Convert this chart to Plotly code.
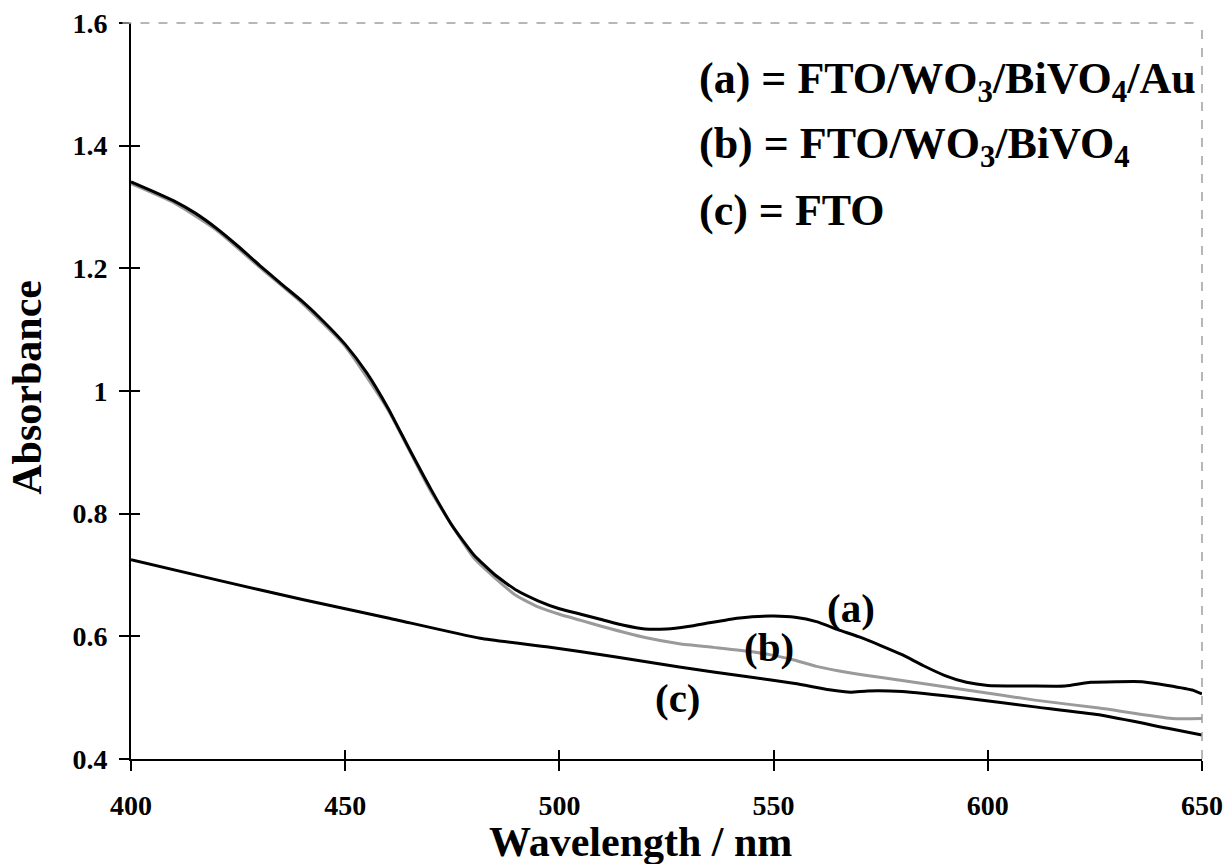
import plotly.graph_objects as go

# Wavelength (nm) / absorbance
wl_a = [400, 405, 410, 415, 420, 425, 430, 435, 440, 445, 450, 455, 460, 465, 470, 475, 480, 485, 490,
        495, 500, 505, 510, 515, 520, 525, 530, 535, 540, 545, 550, 555, 560, 565, 570, 575, 580, 585,
        590, 595, 600, 610, 618, 624, 630, 636, 642, 648, 650]
abs_a = [1.341, 1.326, 1.310, 1.290, 1.265, 1.236, 1.205, 1.175, 1.146, 1.113, 1.076, 1.030, 0.972, 0.905,
         0.840, 0.780, 0.733, 0.700, 0.675, 0.658, 0.645, 0.636, 0.627, 0.618, 0.612, 0.612, 0.616, 0.622,
         0.628, 0.632, 0.633, 0.631, 0.624, 0.611, 0.599, 0.585, 0.570, 0.552, 0.536, 0.525, 0.520, 0.519,
         0.519, 0.525, 0.526, 0.526, 0.520, 0.512, 0.506]

wl_b = [400, 410, 420, 430, 440, 450, 460, 470, 480, 485, 490, 495, 500, 505, 510, 520, 528, 536, 545,
        550, 555, 560, 565, 571, 580, 595, 611, 626, 643, 650]
abs_b = [1.338, 1.307, 1.262, 1.202, 1.143, 1.073, 0.969, 0.836, 0.728, 0.695, 0.666, 0.648, 0.636, 0.626,
         0.616, 0.598, 0.588, 0.582, 0.575, 0.569, 0.561, 0.551, 0.544, 0.537, 0.528, 0.5125, 0.496, 0.483,
         0.466, 0.466]

wl_c = [400, 420, 440, 460, 481.5, 497, 512.5, 528, 544, 555, 563, 568, 572, 580, 595, 611, 626, 642, 650]
abs_c = [0.725, 0.692, 0.660, 0.630, 0.597, 0.583, 0.567, 0.550, 0.534, 0.523, 0.513, 0.509, 0.511, 0.510,
         0.499, 0.485, 0.472, 0.450, 0.439]

x_ticks = [400, 450, 500, 550, 600, 650]
y_ticks = [0.4, 0.6, 0.8, 1.0, 1.2, 1.4, 1.6]
y_tick_labels = ["0.4", "0.6", "0.8", "1", "1.2", "1.4", "1.6"]

legend_lines = ["(a) = FTO/WO<sub>3</sub>/BiVO<sub>4</sub>/Au",
                "(b) = FTO/WO<sub>3</sub>/BiVO<sub>4</sub>",
                "(c) = FTO"]
curve_labels = ["(a)", "(b)", "(c)"]
curve_label_pos = [(568.1, 0.647), (549.0, 0.583), (527.7, 0.499)]

FONT = "Liberation Serif, Times New Roman, serif"

fig = go.Figure()
fig.add_trace(go.Scatter(x=wl_b, y=abs_b, mode="lines", line=dict(color="#9a9a9a", width=3, shape="spline", smoothing=0.5),
                         showlegend=False, hoverinfo="skip"))
fig.add_trace(go.Scatter(x=wl_c, y=abs_c, mode="lines", line=dict(color="black", width=3, shape="spline", smoothing=0.5),
                         showlegend=False, hoverinfo="skip"))
fig.add_trace(go.Scatter(x=wl_a, y=abs_a, mode="lines", line=dict(color="black", width=3, shape="spline", smoothing=0.5),
                         showlegend=False, hoverinfo="skip"))

common_x = dict(range=[400, 650], tickvals=x_ticks, showgrid=False, zeroline=False, automargin=False)
common_y = dict(range=[0.4, 1.6], tickvals=y_ticks, showgrid=False, zeroline=False, automargin=False)

fig.update_layout(
    width=1229, height=864,
    margin=dict(l=131, r=27, t=23, b=105),
    paper_bgcolor="white", plot_bgcolor="white",
    font=dict(family=FONT, color="black"),
    xaxis=dict(**common_x, showline=True, linecolor="black", linewidth=2,
               ticks="outside", ticklen=10, tickwidth=1.5, tickcolor="black",
               tickfont=dict(family=FONT, size=28, weight="bold", color="black"),
               ticklabelstandoff=10),
    yaxis=dict(**common_y, ticktext=y_tick_labels, showline=True, linecolor="black", linewidth=2,
               ticks="outside", ticklen=10, tickwidth=1.5, tickcolor="black",
               tickfont=dict(family=FONT, size=28, weight="bold", color="black"),
               ticklabelstandoff=6),
    xaxis2=dict(**common_x, overlaying="x", anchor="y2", showticklabels=False, showline=False,
                ticks="inside", ticklen=9, tickwidth=1.5, tickcolor="black"),
    yaxis2=dict(**common_y, overlaying="y", anchor="x2", showticklabels=False, showline=False,
                ticks="inside", ticklen=9, tickwidth=1.5, tickcolor="black"),
)
# invisible trace to activate the overlay axes (for crossing tick marks)
fig.add_trace(go.Scatter(x=[None], y=[None], xaxis="x2", yaxis="y2", showlegend=False, hoverinfo="skip"))

# dashed top and right frame
fig.add_shape(type="line", xref="paper", yref="paper", x0=-0.008, x1=1, y0=1, y1=1,
              line=dict(color="#a0a0a0", width=1.5, dash="dash"))
fig.add_shape(type="line", xref="paper", yref="paper", x0=1, x1=1, y0=0, y1=1,
              line=dict(color="#a0a0a0", width=1.5, dash="dash"))

legend_y = [1.504, 1.398, 1.295]
for txt, yy in zip(legend_lines, legend_y):
    fig.add_annotation(x=532.1, y=yy, xref="x", yref="y", text=txt, showarrow=False,
                       xanchor="left", yanchor="middle",
                       font=dict(family=FONT, size=44, weight="bold", color="black"))

for txt, (xx, yy) in zip(curve_labels, curve_label_pos):
    fig.add_annotation(x=xx, y=yy, xref="x", yref="y", text=txt, showarrow=False,
                       xanchor="center", yanchor="middle",
                       font=dict(family=FONT, size=41, weight="bold", color="black"))

fig.add_annotation(x=0.476, y=-0.113, xref="paper", yref="paper", text="Wavelength / nm", showarrow=False,
                   xanchor="center", yanchor="middle",
                   font=dict(family=FONT, size=42, weight="bold", color="black"))
fig.add_annotation(x=-0.0967, y=0.505, xref="paper", yref="paper", text="Absorbance", showarrow=False,
                   textangle=-90, xanchor="center", yanchor="middle",
                   font=dict(family=FONT, size=42, weight="bold", color="black"))

fig.write_html("out.html")
